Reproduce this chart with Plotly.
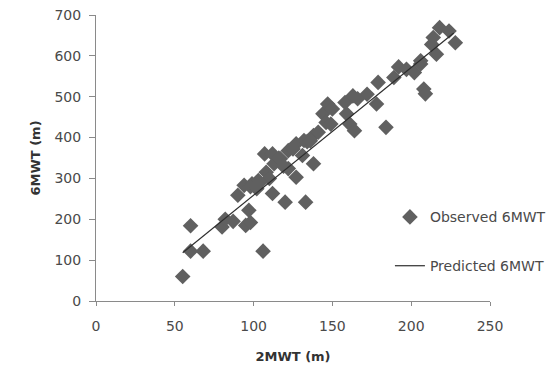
import plotly.graph_objects as go

# Observed 6MWT data (2MWT in m, 6MWT in m)
obs_2mwt = [55, 60, 60, 68, 80, 82, 95, 97, 98, 106,
            90, 94, 99, 103, 98, 108, 107, 112, 113, 117,
            112, 120, 133, 127, 122, 122, 127, 132, 138, 131,
            138, 134, 141, 144, 146, 147, 149, 158, 159, 161,
            163, 164, 172, 178, 179, 184, 189, 192, 197, 202,
            206, 208, 209, 206, 213, 214, 216, 218, 224, 228,
            102, 110, 116, 125, 136, 150, 166, 104, 87, 119]
obs_6mwt = [60, 184, 122, 122, 181, 200, 185, 222, 192, 122,
            259, 283, 287, 295, 280, 315, 360, 360, 336, 348,
            263, 242, 242, 303, 368, 324, 385, 393, 336, 356,
            405, 390, 413, 458, 437, 482, 433, 486, 458, 433,
            502, 417, 506, 482, 535, 425, 547, 573, 567, 559,
            580, 519, 507, 588, 628, 645, 604, 669, 661, 632,
            275, 300, 350, 372, 392, 470, 495, 290, 195, 330]

# Predicted 6MWT (regression line end points)
pred_2mwt = [55, 227]
pred_6mwt = [118, 656]

FONT = "DejaVu Sans"
TXT = "#4a4a4a"
AX = "#8a8a8a"

fig = go.Figure()
fig.add_trace(go.Scatter(
    x=obs_2mwt, y=obs_6mwt, mode="markers", name="Observed 6MWT",
    marker=dict(symbol="diamond", size=12, color="#606060"),
    legend="legend",
))
fig.add_trace(go.Scatter(
    x=pred_2mwt, y=pred_6mwt, mode="lines", name="Predicted 6MWT",
    line=dict(color="#2e2e2e", width=1.2),
    legend="legend2",
))

fig.update_layout(
    width=556, height=366,
    margin=dict(l=88, r=74, t=7, b=73),
    paper_bgcolor="white", plot_bgcolor="white",
    font=dict(family=FONT, size=14, color=TXT),
    showlegend=True,
    legend=dict(x=0.746, xanchor="left", y=(301 - 217) / 287, yanchor="middle",
                bgcolor="rgba(0,0,0,0)", font=dict(family=FONT, size=14, color=TXT)),
    legend2=dict(x=0.746, xanchor="left", y=(301 - 266) / 287, yanchor="middle",
                 bgcolor="rgba(0,0,0,0)", font=dict(family=FONT, size=14, color=TXT)),
)
fig.update_xaxes(
    range=[0, 250], dtick=50, tick0=0, showgrid=False, zeroline=False,
    showline=True, linecolor=AX, linewidth=1, ticks="outside", ticklen=4, tickcolor=AX,
    ticklabelstandoff=8, ticklabeloverflow="allow",
    tickfont=dict(family=FONT, size=14, color=TXT),
    title=dict(text="<b>2MWT (m)</b>", font=dict(family=FONT, size=13, color="#333"), standoff=19),
    automargin=False,
)
fig.update_yaxes(
    range=[0, 700], dtick=100, tick0=0, showgrid=False, zeroline=False,
    showline=True, linecolor=AX, linewidth=1, ticks="outside", ticklen=6, tickcolor=AX,
    ticklabelstandoff=5, ticklabeloverflow="allow",
    tickfont=dict(family=FONT, size=14, color=TXT),
    title=dict(text="<b>6MWT (m)</b>", font=dict(family=FONT, size=13, color="#333"), standoff=10),
    automargin=False,
)

fig.write_html("out.html")
